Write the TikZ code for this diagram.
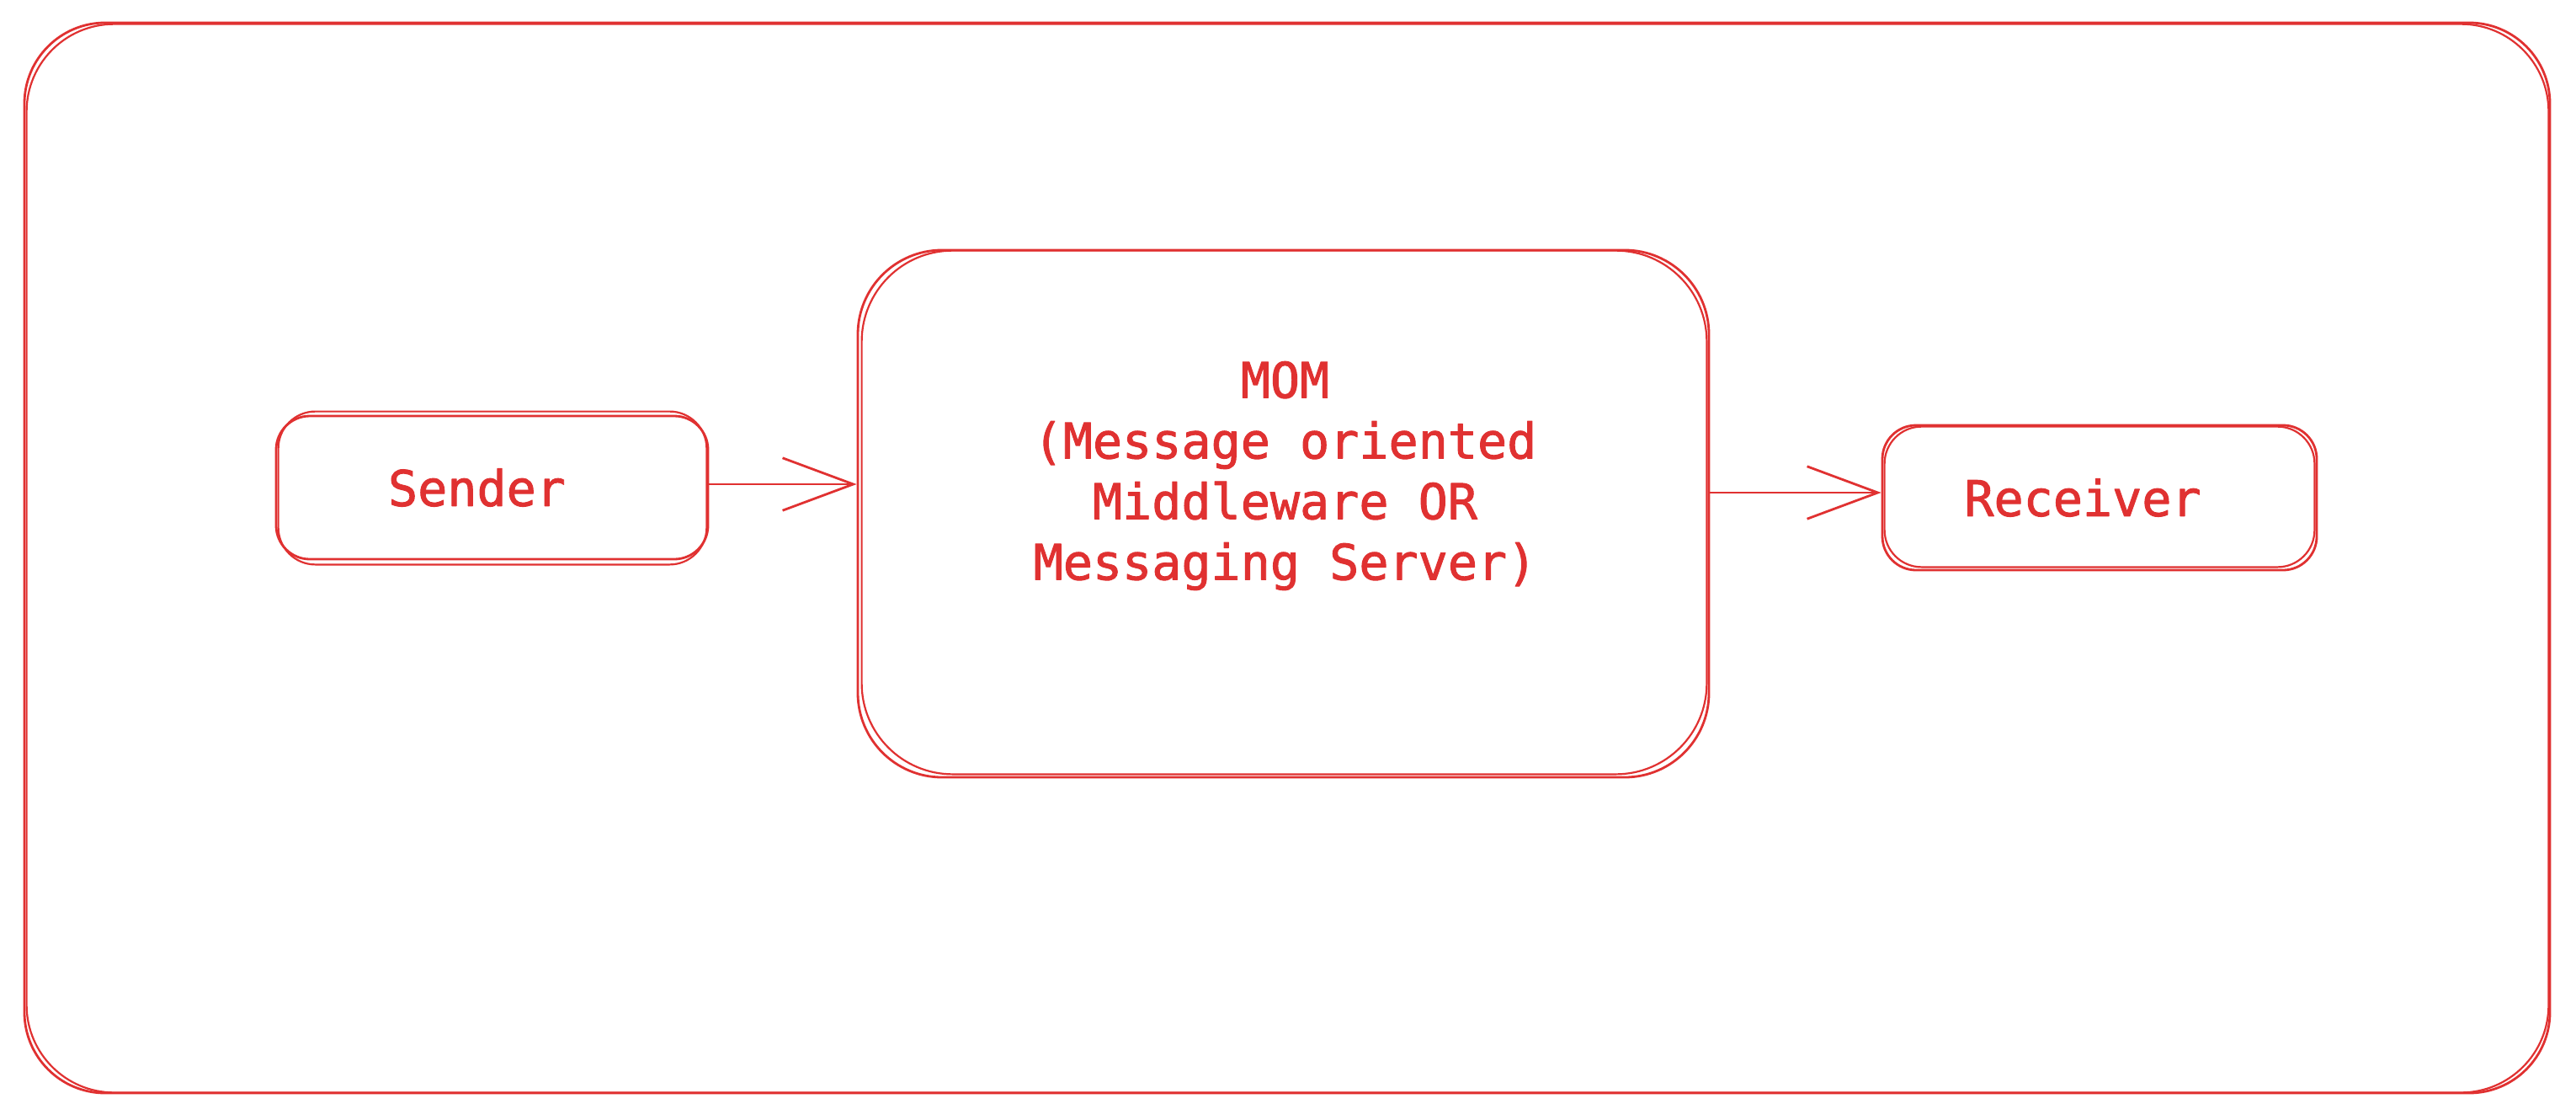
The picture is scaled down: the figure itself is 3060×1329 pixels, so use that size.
\documentclass[tikz,border=0pt]{standalone}
\usepackage{fontspec}
\newfontfamily\momfont[FakeBold=1.6]{DejaVu Sans Mono}
\usetikzlibrary{arrows.meta,calc}
\definecolor{exred}{HTML}{E03131}
\begin{document}
\begin{tikzpicture}[x=0.25pt,y=-0.25pt,
  line width=0.7pt, line cap=round, line join=round,
  txt/.style={font=\momfont\fontsize{14.6pt}{18pt}\selectfont, text=exred},
  box/.style={draw=exred, inner sep=0pt, txt},
  sketch/.style={draw=exred, line width=0.55pt},
  flow/.style={draw=exred, -{Straight Barb[length=21pt,width=15.6pt,line width=0.7pt]}}
]
\useasboundingbox (0,0) rectangle (3060,1329);
% outer frame
\node[box, rounded corners=24pt, minimum width=750pt, minimum height=317.75pt] (frame) at (1529,662.5) {};
\draw[sketch, rounded corners=26pt] ($(frame.north west)+(4,3)$) rectangle ($(frame.south east)+(-3,-2)$);
% nodes
\node[box, rounded corners=10pt, minimum width=128.25pt, minimum height=42.5pt] (sender) at (584.5,579) {\hspace*{-9pt}Sender};
\draw[sketch, rounded corners=11pt] ($(sender.north west)+(4,-4)$) rectangle ($(sender.south east)+(-3,5)$);
\node[box, rounded corners=25pt, minimum width=252.75pt, minimum height=156.5pt] (mom) at (1524.5,610) {};
\draw[sketch, rounded corners=27pt] ($(mom.north west)+(6,2)$) rectangle ($(mom.south east)+(-4,-5)$);
\node[txt, align=center, inner sep=0pt] (momtext) at ($(mom.center)+(2,-45)$) {MOM\\(Message oriented\\Middleware OR\\Messaging Server)};
\node[box, rounded corners=10pt, minimum width=129pt, minimum height=43pt] (receiver) at (2494,591) {\hspace*{-10pt}Receiver};
\draw[sketch, rounded corners=11pt] ($(receiver.north west)+(4,3)$) rectangle ($(receiver.south east)+(-4,-5)$);
% connectors
\draw[flow] ($(sender.east)+(0,-4)$) -- ($(sender.east -| mom.west)+(0,-4)$);
\draw[flow] ($(receiver.west -| mom.east)+(0,-6)$) -- ($(receiver.west)+(0,-6)$);
\end{tikzpicture}
\end{document}
